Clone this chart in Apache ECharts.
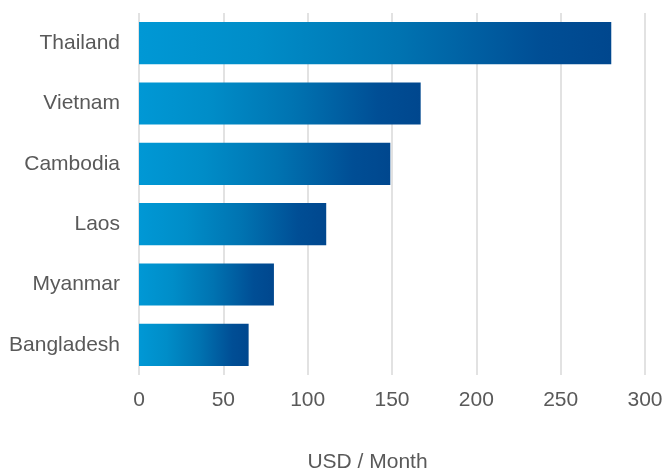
<!DOCTYPE html>
<html>
<head>
<meta charset="utf-8">
<style>
  html, body { margin: 0; padding: 0; background: #ffffff; }
  #chart { width: 665px; height: 474px; }
</style>
<script src="https://cdn.jsdelivr.net/npm/echarts@6/dist/echarts.min.js"></script>
</head>
<body>
<div id="chart"></div>
<script>
// Monthly minimum wage by country (USD / month)
const countries = ['Thailand', 'Vietnam', 'Cambodia', 'Laos', 'Myanmar', 'Bangladesh'];
const wages = [280, 167, 149, 111, 80, 65];
const wageTicks = [0, 50, 100, 150, 200, 250, 300];

const textColor = '#595959';
const fontFamily = 'Arial, "Liberation Sans", sans-serif';
const fontSize = 21;

// Each bar fades from light cyan-blue on the left to navy on the right
const barFill = new echarts.graphic.LinearGradient(0, 0, 1, 0, [
  { offset: 0, color: '#0098D5' },
  { offset: 0.25, color: '#008DC8' },
  { offset: 0.55, color: '#0073B1' },
  { offset: 0.85, color: '#004E95' },
  { offset: 1, color: '#00478E' }
]);

const chart = echarts.init(document.getElementById('chart'), null, { renderer: 'canvas' });

chart.setOption({
  animation: false,
  backgroundColor: '#ffffff',
  grid: {
    left: 139, right: 20, top: 13, bottom: 99,
    containLabel: false,
    outerBoundsMode: 'none'
  },
  xAxis: {
    type: 'value',
    min: wageTicks[0],
    max: wageTicks[wageTicks.length - 1],
    interval: wageTicks[1] - wageTicks[0],
    name: 'USD / Month',
    nameLocation: 'middle',
    nameGap: 77,
    nameTextStyle: {
      color: textColor, fontSize: fontSize, fontFamily: fontFamily,
      padding: [0, 49, 0, 0]
    },
    axisLine: { show: false },
    axisTick: { show: false },
    axisLabel: { color: textColor, fontSize: fontSize, fontFamily: fontFamily, margin: 15 },
    splitLine: { show: true, lineStyle: { color: '#e2e2e2', width: 2 } }
  },
  yAxis: {
    type: 'category',
    data: countries,
    inverse: true,
    axisLine: { show: false },
    axisTick: { show: false },
    axisLabel: { color: textColor, fontSize: fontSize, fontFamily: fontFamily, margin: 19 },
    splitLine: { show: false }
  },
  series: [{
    type: 'bar',
    data: wages,
    barCategoryGap: '30%',
    itemStyle: { color: barFill }
  }]
});
</script>
</body>
</html>
